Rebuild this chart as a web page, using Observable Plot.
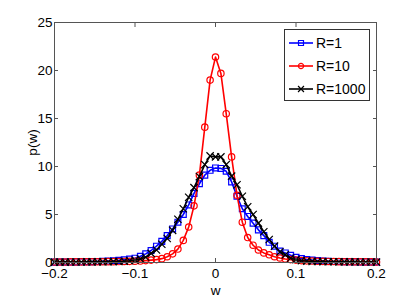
<!DOCTYPE html>
<html>
<head>
<meta charset="utf-8">
<script src="https://cdn.jsdelivr.net/npm/d3@7"></script>
<script src="https://cdn.jsdelivr.net/npm/@observablehq/plot@0.6"></script>
<style>
  html, body { margin: 0; padding: 0; background: #fff; }
  #wrap { position: relative; width: 415px; height: 297px; font-family: "Liberation Sans", Arial, sans-serif; }
  #legend { position: absolute; left: 284px; top: 29px; width: 86px; height: 72px; box-sizing: border-box; border: 1px solid #333; background: #fff; }
</style>
</head>
<body>
<div id="wrap"></div>
<script>
// bin centres (w)
const w = [
  -0.2, -0.1933, -0.1867, -0.18, -0.1733, -0.1667, -0.16, -0.1533, -0.1467, -0.14,
  -0.1333, -0.1267, -0.12, -0.1133, -0.1067, -0.1, -0.0933, -0.0867, -0.08, -0.0733,
  -0.0667, -0.06, -0.0533, -0.0467, -0.04, -0.0333, -0.0267, -0.02, -0.0133, -0.0067,
  0,
  0.0067, 0.0133, 0.02, 0.0267, 0.0333, 0.04, 0.0467, 0.0533, 0.06, 0.0667,
  0.0733, 0.08, 0.0867, 0.0933, 0.1, 0.1067, 0.1133, 0.12, 0.1267, 0.1333,
  0.14, 0.1467, 0.1533, 0.16, 0.1667, 0.1733, 0.18, 0.1867, 0.1933, 0.2
];
// p(w) for R = 1
const pR1 = [
  0.04, 0.05, 0.05, 0.06, 0.06, 0.07, 0.08, 0.09, 0.1, 0.12,
  0.15, 0.18, 0.22, 0.28, 0.35, 0.45, 0.65, 0.9, 1.25, 1.7,
  2.2, 2.8, 3.5, 4.2, 5.0, 6.0, 7.2, 8.2, 9.1, 9.6,
  9.85,
  9.8, 9.5, 8.4, 6.9, 5.6, 4.8, 4.1, 3.4, 2.8, 2.1,
  1.7, 1.2, 1.0, 0.75, 0.55, 0.42, 0.32, 0.25, 0.2, 0.16,
  0.13, 0.11, 0.1, 0.09, 0.08, 0.07, 0.06, 0.06, 0.05, 0.05
];
// p(w) for R = 10
const pR10 = [
  0.05, 0.05, 0.05, 0.06, 0.06, 0.06, 0.07, 0.07, 0.08, 0.08,
  0.09, 0.09, 0.1, 0.11, 0.12, 0.13, 0.15, 0.2, 0.25, 0.3,
  0.4, 0.6, 0.9, 1.4, 2.3, 3.7, 5.9, 9.1, 14.1, 19.0,
  21.4,
  19.7, 15.5, 11.0, 7.0, 4.2, 2.6, 1.8, 1.3, 1.0, 0.8,
  0.6, 0.47, 0.37, 0.3, 0.25, 0.2, 0.17, 0.15, 0.13, 0.12,
  0.11, 0.1, 0.09, 0.08, 0.08, 0.07, 0.07, 0.06, 0.06, 0.05
];
// p(w) for R = 1000
const pR1000 = [
  0.04, 0.04, 0.04, 0.05, 0.05, 0.05, 0.06, 0.06, 0.07, 0.07,
  0.08, 0.09, 0.1, 0.13, 0.18, 0.25, 0.38, 0.55, 0.95, 1.3,
  1.9, 2.5, 3.35, 4.5, 5.6, 6.8, 7.8, 8.95, 10.2, 11.1,
  11.0,
  11.0, 10.2, 9.0, 8.1, 6.9, 5.8, 5.0, 4.1, 3.2, 2.4,
  1.7, 1.1, 0.8, 0.45, 0.3, 0.2, 0.15, 0.12, 0.1, 0.09,
  0.08, 0.08, 0.07, 0.07, 0.06, 0.06, 0.05, 0.05, 0.05, 0.04
];
const seriesNames = ["R=1", "R=10", "R=1000"];
const seriesColors = ["#0000ff", "#ff0000", "#000000"];
const seriesSymbols = ["square", "circle", "times"];
const xTicks = [-0.2, -0.1, 0, 0.1, 0.2];
const yTicks = [0, 5, 10, 15, 20, 25];

const allSeries = [pR1, pR10, pR1000];
const data = allSeries.map((vals, i) => w.map((x, j) => ({w: x, p: vals[j], s: seriesNames[i]})));

const fmt = d => d === 0 ? "0" : (d < 0 ? "\u2212" + String(-d) : String(d));
const symR = s => s === "circle" ? 3.2 : s === "square" ? 3.3 : 3.4;

const marks = [];
data.forEach((rows, i) => {
  marks.push(Plot.line(rows, {x: "w", y: "p", stroke: seriesColors[i], strokeWidth: 1.6}));
  marks.push(Plot.dot(rows, {x: "w", y: "p", stroke: seriesColors[i], symbol: seriesSymbols[i], r: symR(seriesSymbols[i]), strokeWidth: 1.2, fill: "none"}));
});

const chart = Plot.plot({
  width: 415,
  height: 297,
  marginLeft: 54,
  marginRight: 39,
  marginTop: 22,
  marginBottom: 35,
  style: {fontFamily: "Liberation Sans, Arial, sans-serif", fontSize: "13.5px", color: "#000", background: "#fff"},
  x: {domain: [-0.2, 0.2]},
  y: {domain: [0, 25]},
  marks: [
    ...marks,
    Plot.frame({stroke: "#555", strokeWidth: 1}),
    Plot.axisX(xTicks, {anchor: "bottom", tickSize: -4, tickPadding: 10, tickFormat: fmt, label: "w", labelAnchor: "center", labelArrow: "none", labelOffset: 32, stroke: "#555", fill: "#000"}),
    Plot.axisX(xTicks, {anchor: "top", tickSize: -4, tickFormat: () => "", label: null, stroke: "#555"}),
    Plot.axisY(yTicks, {anchor: "left", tickSize: -4, tickPadding: 6, tickFormat: fmt, label: "p(w)", labelAnchor: "center", labelArrow: "none", labelOffset: 27, stroke: "#555", fill: "#000"}),
    Plot.axisY(yTicks, {anchor: "right", tickSize: -4, tickFormat: () => "", label: null, stroke: "#555"})
  ]
});
const wrap = document.getElementById("wrap");
wrap.appendChild(chart);

// legend
const legend = document.createElement("div");
legend.id = "legend";
const lsvg = d3.create("svg").attr("width", 84).attr("height", 70).style("display", "block");
seriesNames.forEach((name, i) => {
  const yy = 13 + i * 23;
  const g = lsvg.append("g");
  g.append("line").attr("x1", 4).attr("x2", 28).attr("y1", yy).attr("y2", yy).attr("stroke", seriesColors[i]).attr("stroke-width", 1.6);
  const s = seriesSymbols[i];
  const r = s === "circle" ? 2.6 : 2.8;
  const sym = d3.symbol(s === "square" ? d3.symbolSquare : s === "circle" ? d3.symbolCircle : d3.symbolTimes, Math.PI * r * r);
  g.append("path").attr("d", sym()).attr("transform", `translate(16,${yy})`).attr("fill", "none").attr("stroke", seriesColors[i]).attr("stroke-width", 1.2);
  g.append("text").attr("x", 31).attr("y", yy).attr("dy", "0.35em").attr("font-size", 14).attr("font-family", "Liberation Sans, Arial, sans-serif").text(name);
});
legend.appendChild(lsvg.node());
wrap.appendChild(legend);
</script>
</body>
</html>
